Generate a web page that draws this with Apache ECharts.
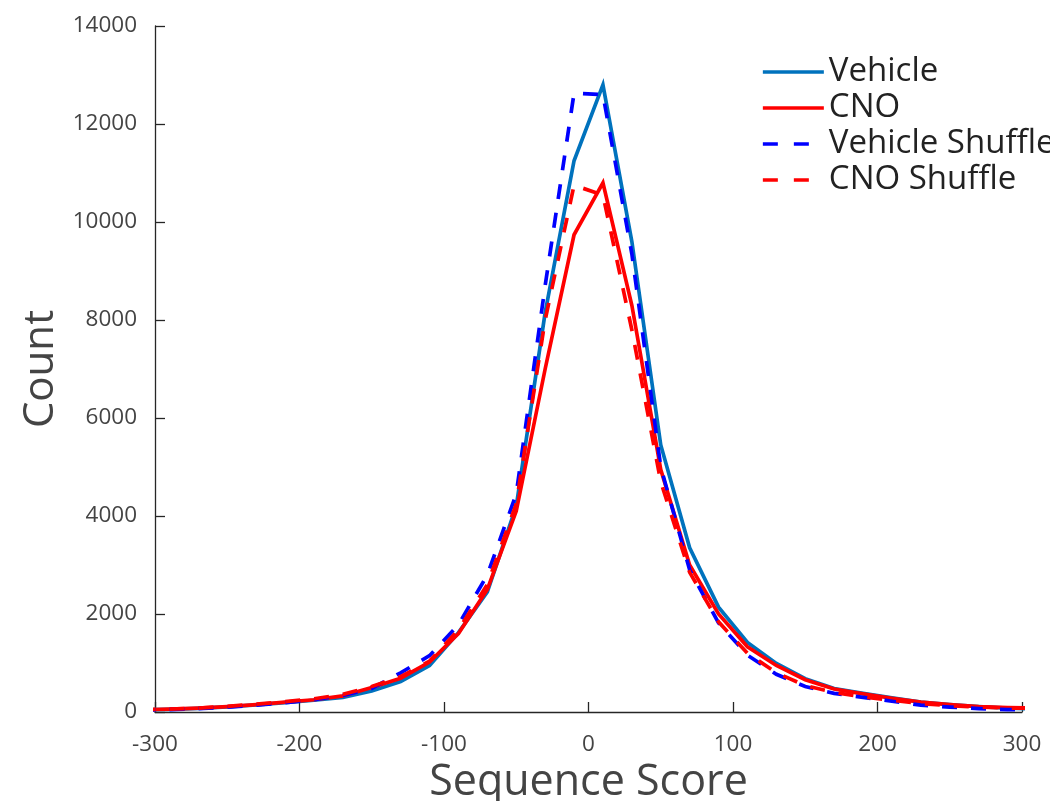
<!DOCTYPE html>
<html>
<head>
<meta charset="utf-8">
<style>
  html, body { margin: 0; padding: 0; background: #fff; }
  #chart { width: 1050px; height: 801px; }
</style>
<script src="https://cdn.jsdelivr.net/npm/echarts@6/dist/echarts.min.js"></script>
</head>
<body>
<div id="chart"></div>
<script>
// Bin centres of the sequence-score histogram (edge bins fall just outside the axis range)
const scores = [-310, -290, -270, -250, -230, -210, -190, -170, -150, -130, -110, -90, -70, -50, -30, -10,
                10, 30, 50, 70, 90, 110, 130, 150, 170, 190, 210, 230, 250, 270, 290, 310];

const vehicle = [40, 55, 75, 105, 145, 190, 240, 300, 430, 620, 950, 1620, 2450, 4200, 8150, 11250,
                 12800, 9600, 5450, 3350, 2140, 1420, 990, 680, 480, 380, 290, 200, 150, 110, 80, 60];

const cno = [45, 60, 80, 110, 150, 200, 250, 330, 500, 690, 1020, 1600, 2500, 4100, 7000, 9740,
             10800, 8300, 4950, 3000, 2000, 1330, 950, 660, 470, 370, 280, 200, 150, 110, 90, 80];

const vehicleShuffle = [35, 50, 70, 100, 140, 190, 250, 340, 480, 800, 1150, 1780, 2800, 4450, 8700, 12630,
                        12600, 9350, 5000, 2900, 1820, 1160, 770, 520, 380, 300, 220, 140, 100, 70, 50, 40];

const cnoShuffle = [45, 60, 80, 115, 160, 210, 270, 360, 520, 720, 1040, 1680, 2600, 4250, 8000, 10750,
                    10550, 7800, 4700, 2850, 1840, 1200, 800, 540, 400, 310, 240, 170, 130, 100, 80, 80];

const seriesNames = ['Vehicle', 'CNO', 'Vehicle Shuffle', 'CNO Shuffle'];

const xTicks = { min: -300, max: 300, step: 100 };
const yTicks = { min: 0, max: 14000, step: 2000 };

function pairs(values) {
  return scores.map((s, i) => [s, values[i]]);
}

const font = 'Open Sans, Noto Sans, sans-serif';
const axisColor = '#262626';
const labelColor = '#444444';
const lineWidth = 3.7;
const dash = [15, 14];
const legendDash = [15, 16];

function lineSeries(name, values, color, dashed) {
  return {
    name: name,
    type: 'line',
    data: pairs(values),
    symbol: 'none',
    showSymbol: false,
    clip: true,
    smooth: false,
    lineStyle: { color: color, width: lineWidth, type: dashed ? dash : 'solid', cap: 'butt', join: 'miter' },
    itemStyle: { color: color },
    emphasis: { disabled: true },
    animation: false
  };
}

const chart = echarts.init(document.getElementById('chart'), null, { renderer: 'canvas' });

chart.setOption({
  backgroundColor: '#ffffff',
  animation: false,
  grid: { left: 155, right: 28, top: 26, bottom: 89, containLabel: false, outerBoundsMode: 'none' },
  legend: {
    orient: 'vertical',
    left: 761,
    top: 55,
    data: [
      { name: seriesNames[0] },
      { name: seriesNames[1] },
      { name: seriesNames[2], lineStyle: { type: legendDash } },
      { name: seriesNames[3], lineStyle: { type: legendDash } }
    ],
    itemWidth: 61,
    itemHeight: 14,
    itemGap: 2,
    padding: 0,
    selectedMode: false,
    itemStyle: { opacity: 0 },
    lineStyle: { width: lineWidth, cap: 'butt' },
    textStyle: { fontFamily: font, fontSize: 33, color: '#222', lineHeight: 34 }
  },
  xAxis: {
    type: 'value',
    min: xTicks.min,
    max: xTicks.max,
    interval: xTicks.step,
    name: 'Sequence Score',
    nameLocation: 'middle',
    nameGap: 40,
    nameTextStyle: { fontFamily: font, fontSize: 43, color: labelColor },
    axisLine: { show: true, onZero: false, lineStyle: { color: axisColor, width: 1.3 } },
    axisTick: { show: true, inside: true, length: 10, lineStyle: { color: axisColor, width: 1.3 } },
    axisLabel: { fontFamily: font, fontSize: 22.5, color: labelColor, margin: 21, formatter: v => String(v) },
    splitLine: { show: false }
  },
  yAxis: {
    type: 'value',
    min: yTicks.min,
    max: yTicks.max,
    interval: yTicks.step,
    name: 'Count',
    nameLocation: 'middle',
    nameGap: 93,
    nameRotate: 90,
    nameTextStyle: { fontFamily: font, fontSize: 42, color: labelColor },
    axisLine: { show: true, onZero: false, lineStyle: { color: axisColor, width: 1.3 } },
    axisTick: { show: true, inside: true, length: 10, lineStyle: { color: axisColor, width: 1.3 } },
    axisLabel: { fontFamily: font, fontSize: 22.5, color: labelColor, margin: 18, formatter: v => String(v) },
    splitLine: { show: false }
  },
  series: [
    lineSeries(seriesNames[0], vehicle, '#0072BD', false),
    lineSeries(seriesNames[1], cno, '#FF0000', false),
    lineSeries(seriesNames[2], vehicleShuffle, '#0000FF', true),
    lineSeries(seriesNames[3], cnoShuffle, '#FF0000', true)
  ]
});
</script>
</body>
</html>
